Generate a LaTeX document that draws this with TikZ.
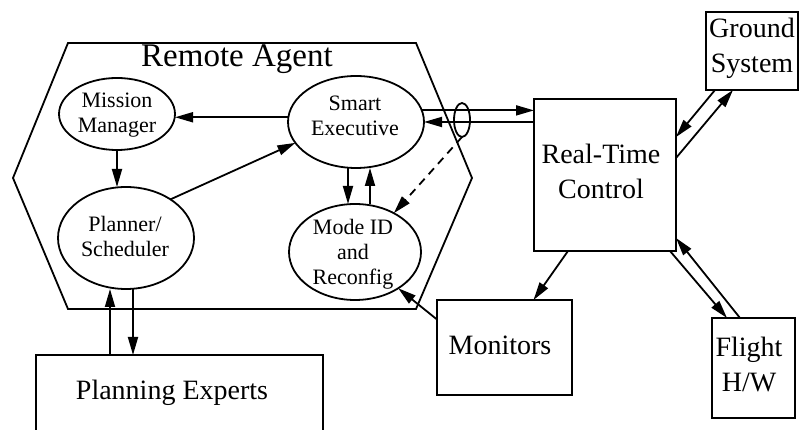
\documentclass[tikz,border=0pt]{standalone}
\usepackage{fontspec}
\setmainfont{Liberation Serif}
\usetikzlibrary{arrows.meta,shapes.geometric,calc}

\begin{document}
\begin{tikzpicture}[x=1pt,y=1pt,
  every node/.style={inner sep=0pt, outer sep=0pt},
  ln/.style={line width=1.8pt},
  arr/.style={ln, -{Triangle[length=18pt,width=10pt]}},
  oval/.style={ellipse, draw, ln, inner sep=0pt},
  box/.style={rectangle, draw, ln, inner sep=0pt},
  small/.style={font=\fontsize{22}{25}\selectfont, align=center},
  big/.style={font=\fontsize{28}{35}\selectfont, align=center},
]
\useasboundingbox (0,0) rectangle (799,430);
\clip (0,0) rectangle (799,430);

% Remote Agent boundary
\draw[ln] (68,387) -- (416,387) -- (472,252) -- (416,121) -- (68,121) -- (13,252) -- cycle;
\node[font=\fontsize{33}{36}\selectfont, anchor=base] (ratitle) at (237,363) {Remote Agent};

% Remote Agent components
\node[oval, minimum width=116pt, minimum height=72pt] (mm) at (117,316) {};
\node[small] (mmt) at (117,314.5) {Mission\\Manager};
\node[oval, minimum width=136pt, minimum height=92pt] (se) at (356,308) {};
\node[small] (set) at (355,314) {Smart\\Executive};
\node[oval, minimum width=136pt, minimum height=102pt] (ps) at (126,192) {};
\node[small] (pst) at (125,194) {Planner/\\Scheduler};
\node[oval, minimum width=132pt, minimum height=96pt] (me) at (355,178) {};
\node[small] (met) at (353,176) {Mode ID\\and\\Reconfig};

% signal tap on the executive link
\node[oval, minimum width=16pt, minimum height=34pt] (tap) at (462,310) {};

% external blocks
\node[box, minimum width=142pt, minimum height=152pt] (rtc) at (605,255) {};
\node[big] (rtct) at (601,258.5) {Real-Time\\Control};
\node[box, minimum width=92pt, minimum height=78pt] (gs) at (752,379) {};
\node[big] (gst) at (752,381.5) {Ground\\System};
\node[box, minimum width=83pt, minimum height=100pt] (fl) at (753.5,62) {};
\node[big] (flt) at (749,65) {Flight\\H/W};
\node[box, minimum width=135pt, minimum height=95pt] (mon) at (504.5,82.5) {};
\node[big] (mont) at (500,85) {Monitors};
\node[box, minimum width=287pt, minimum height=90pt] (pe) at (179.5,30) {};
\node[big] (pet) at (172,37) {Planning Experts};

% internal links
\draw[arr] (se.176) -- (se.176 -| mm.east);
\draw[arr] (mm.south) -- (mm.south |- ps.north);
\draw[arr] (ps.41) -- (se.199);
\draw[arr] ($(se.south)+(-8,0)$) -- ($(se.south |- me.north)+(-8,0)$);
\draw[arr] ($(me.north)+(15,0)$) -- ($(me.north |- se.south)+(15,0)$);
\draw[arr, dash pattern=on 8pt off 6pt] (tap.south) -- (me.45);

% executive <-> real-time control
\draw[arr] (se.10) -- (se.10 -| rtc.west);
\draw[arr] (rtc.west |- se.east) -- (se.east);

% monitors
\draw[arr] ($(rtc.south)+(-37,0)$) -- ($(mon.north)+(29,0)$);
\draw[arr] ($(mon.west)+(0,28)$) -- (me.320);

% ground system
\draw[arr] ($(gs.south)+(-37,0)$) -- ($(rtc.east)+(0,38)$);
\draw[arr] ($(rtc.east)+(0,17)$) -- ($(gs.south)+(-19,0)$);

% flight hardware
\draw[arr] ($(rtc.south)+(65,0)$) -- ($(fl.north)+(-26.5,0)$);
\draw[arr] ($(fl.north)+(-13.5,0)$) -- ($(rtc.east)+(0,-63)$);

% planning experts
\draw[arr] ($(ps.south |- pe.north)+(-16,0)$) -- ($(ps.south)+(-16,0)$);
\draw[arr] ($(ps.south)+(7,0)$) -- ($(ps.south |- pe.north)+(7,0)$);
\end{tikzpicture}
\end{document}
